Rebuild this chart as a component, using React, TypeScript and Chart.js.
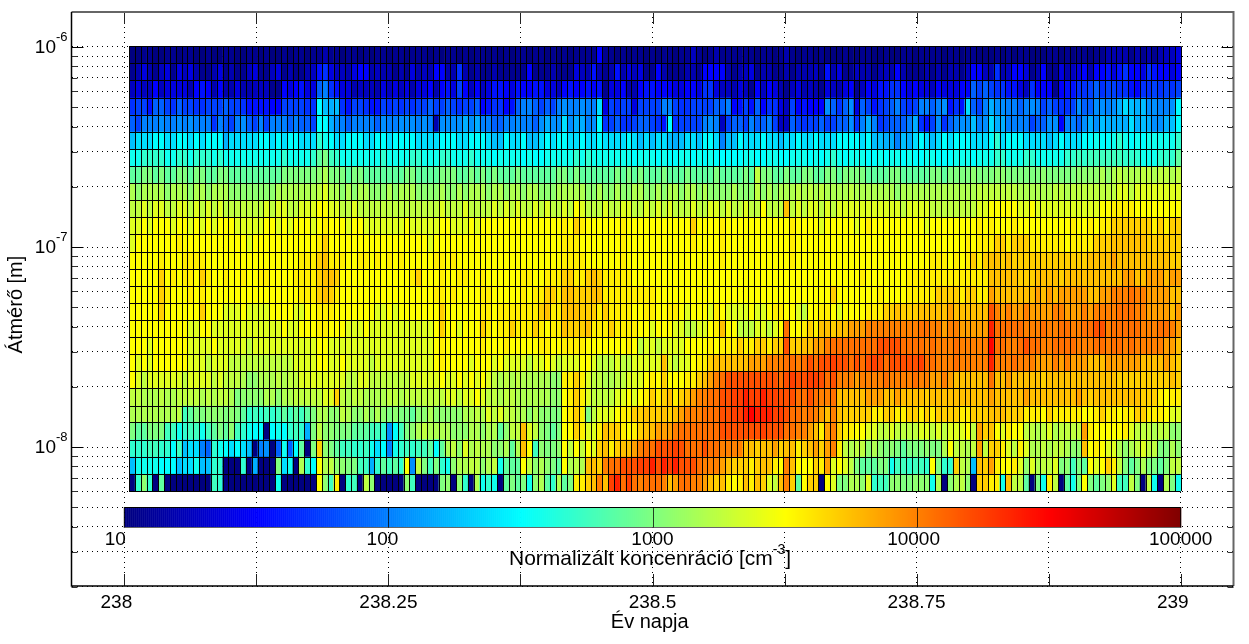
import React, { useEffect, useRef } from "react";
import { Chart, registerables } from "chart.js";

Chart.register(...registerables);

// Axis ticks
const xTickDays = [238, 238.125, 238.25, 238.375, 238.5, 238.625, 238.75, 238.875, 239];
const xTickLabels = ["238   ", "", "238.25", "", "238.5", "", "238.75", "", "239   "];
const yTicks = [
  2e-9, 3e-9, 4e-9, 5e-9, 6e-9, 7e-9, 8e-9, 9e-9,
  1e-8, 2e-8, 3e-8, 4e-8, 5e-8, 6e-8, 7e-8, 8e-8, 9e-8,
  1e-7, 2e-7, 3e-7, 4e-7, 5e-7, 6e-7, 7e-7, 8e-7, 9e-7, 1e-6,
];
const yMajorTicks = [1e-8, 1e-7, 1e-6];
const yMajorExponents = ["-8", "-7", "-6"];
const colorbarTicks = [10, 100, 1000, 10000, 100000];
const colorbarLabels = ["10", "100", "1000", "10000", "100000"];
const colorbarLabelShift = [-9, -6, 0, -3, 0];

// Bin edges of the diameter channels, top to bottom [m]
const diameterEdges = [
  1.008e-6, 8.28e-7, 6.8e-7, 5.58e-7, 4.59e-7, 3.77e-7, 3.09e-7, 2.54e-7, 2.09e-7,
  1.71e-7, 1.41e-7, 1.156e-7, 9.49e-8, 7.8e-8, 6.41e-8, 5.26e-8, 4.32e-8, 3.55e-8,
  2.91e-8, 2.39e-8, 1.97e-8, 1.61e-8, 1.33e-8, 1.09e-8, 8.94e-9, 7.34e-9, 6.03e-9,
];
const firstSampleDay = 238.00445;
const sampleStepDays = 0.005531;

// Normalised concentration per diameter channel, as 10*log10(cm^-3)
const row01 = [
  10,10,11,11,10,10,11,11,10,11, 11,10,10,11,10,10,11,11,10,10, 11,11,10,11,10,10,11,10,11,11, 10,11,11,12,11,11,10,11,11,10, 11,10,11,11,10,11,11,10,11,11, 11,10,11,10,11,11,10,11,10,11,
  11,10,11,10,11,10,11,11,10,11, 11,10,11,10,11,10,11,11,11,11, 15,11,11,10,11,10,11,11,10,11, 10,11,11,10,11,11,13,11,10,11, 12,11,11,11,11,11,11,10,11,11, 10,11,12,11,10,11,11,10,11,10,
  10,10,11,10,10,11,11,10,10,11, 10,10,11,11,10,11,11,11,11,10, 11,11,10,11,11,10,10,10,11,10, 11,10,11,11,10,10,10,11,11,10, 11,10,11,11,10,11,11,12,12,12, 12,11,12,11,12,11,12,13,13,14,
];
const row02 = [
  11,12,14,12,11,13,14,11,14,13, 14,12,11,11,12,14,11,12,11,11, 13,14,11,11,13,14,11,12,11,11, 12,13,16,17,14,13,13,12,14,15, 15,12,13,12,12,11,12,11,14,12, 13,12,15,15,12,12,17,12,11,12,
  11,11,12,11,11,11,11,11,15,11, 11,11,12,11,11,11,14,13,12,16, 12,11,12,16,12,14,13,14,11,11, 15,12,11,11,11,12,12,11,15,15, 15,15,12,11,12,13,14,11,12,12, 11,11,12,11,12,12,12,13,11,16,
  12,14,11,11,13,12,12,11,12,13, 12,15,12,11,11,11,12,11,12,11, 12,12,11,13,15,15,13,12,17,12, 13,15,15,14,11,12,15,11,11,14, 12,13,14,15,12,15,15,16,14,16, 17,15,15,14,17,16,15,15,14,15,
];
const row03 = [
  13,14,13,13,15,13,14,14,14,14, 12,15,16,15,12,15,12,12,14,12, 12,13,13,13,11,11,15,14,15,16, 14,14,19,20,17,16,14,14,12,13, 13,13,12,14,13,14,13,14,12,14, 14,15,12,15,16,14,18,15,13,15,
  13,14,16,16,15,14,16,15,15,16, 16,14,14,13,15,16,15,15,16,15, 16,11,14,14,15,12,12,15,16,16, 15,15,15,14,14,15,15,14,17,17, 14,13,13,12,14,13,11,15,13,15, 14,12,11,13,14,12,13,12,11,14,
  13,12,14,15,11,13,15,14,16,16, 17,17,15,14,15,14,14,13,15,14, 14,14,15,15,19,18,19,18,17,17, 16,16,14,13,17,15,15,15,11,15, 16,16,17,17,18,19,17,18,18,17, 17,16,15,17,17,18,17,18,17,18,
];
const row04 = [
  17,18,18,16,19,19,18,17,19,18, 18,17,17,18,18,18,19,18,18,17, 16,16,16,16,15,15,18,18,18,18, 17,17,25,23,22,23,17,16,18,18, 17,16,16,18,17,18,17,18,17,18, 18,19,18,18,19,18,17,18,18,19,
  15,16,17,17,15,16,19,20,20,19, 18,19,18,20,21,20,20,21,20,20, 24,14,18,17,18,18,14,18,18,18, 18,20,20,18,17,17,18,18,18,18, 19,19,20,15,16,18,16,19,15,17, 17,14,13,18,15,16,15,15,15,21,
  19,17,19,21,14,19,18,16,17,18, 19,20,18,17,18,20,20,19,20,21, 16,17,16,24,19,18,20,22,21,21, 20,20,19,20,21,20,18,19,18,17, 17,18,21,19,19,21,21,20,21,22, 24,23,22,23,21,21,20,20,21,25,
];
const row05 = [
  19,18,20,20,20,21,20,20,21,20, 21,20,20,20,17,20,19,18,20,21, 19,18,20,18,20,20,20,19,20,19, 19,18,25,25,22,21,20,19,20,20, 20,20,19,21,20,20,21,21,21,20, 21,20,12,21,21,21,21,22,21,22,
  20,20,19,19,20,20,21,20,20,19, 21,22,21,21,24,21,22,22,20,21, 25,17,18,19,17,17,18,19,19,18, 17,16,25,17,18,18,18,18,20,21, 20,13,18,19,19,18,20,19,19,20, 18,13,13,19,18,17,18,18,19,18,
  18,19,19,21,17,20,22,20,17,18, 19,19,19,20,22,17,16,18,21,17, 19,20,21,21,23,20,21,24,22,22, 20,20,20,20,18,19,19,21,21,15, 20,20,19,21,22,21,23,22,22,22, 22,24,22,23,22,21,21,22,23,25,
];
const row06 = [
  23,24,24,24,25,25,24,24,25,25, 24,25,24,25,25,25,22,24,24,24, 24,24,25,25,24,25,24,25,25,24, 24,24,27,26,25,24,24,25,25,25, 24,24,25,25,24,25,25,25,25,24, 24,24,24,25,25,25,24,24,25,25,
  25,24,23,23,25,24,24,25,23,23, 24,25,24,25,25,24,24,25,24,24, 25,24,24,24,24,25,24,23,24,23, 24,24,23,22,23,24,24,23,25,25, 24,20,23,23,25,24,24,24,25,24, 24,23,24,24,25,24,24,25,24,24,
  24,25,25,25,25,24,25,23,23,22, 22,20,23,22,24,25,24,23,24,25, 24,25,25,25,24,24,24,25,27,24, 25,25,25,24,24,24,24,23,24,25, 24,24,24,25,25,26,25,25,26,27, 26,25,26,25,26,26,26,26,26,27,
];
const row07 = [
  26,26,27,27,27,27,26,26,27,27, 26,27,27,27,26,27,26,26,26,26, 26,26,26,26,26,26,27,26,26,26, 26,27,29,30,28,27,26,26,26,26, 26,26,26,27,26,26,26,26,27,27, 26,26,26,27,27,26,26,26,27,26,
  26,26,25,26,26,26,26,25,26,25, 25,26,26,26,26,26,27,26,27,26, 26,26,26,26,26,26,25,26,26,26, 25,26,25,25,26,26,25,26,25,26, 25,25,25,25,25,26,26,25,25,26, 26,25,25,26,26,26,25,26,25,26,
  27,26,25,26,26,26,25,25,26,25, 26,26,25,26,25,25,26,26,25,25, 25,26,26,26,25,26,26,26,27,27, 26,26,26,27,27,26,26,26,26,26, 27,27,28,27,28,28,28,28,28,28, 27,27,27,26,26,26,27,27,27,29,
];
const row08 = [
  29,29,30,30,29,30,29,29,30,30, 29,30,30,29,29,30,30,29,29,29, 29,29,29,29,29,29,30,30,30,30, 30,30,31,32,30,30,30,29,30,30, 29,29,29,29,29,29,29,30,30,29, 29,29,29,30,30,30,29,29,30,29,
  30,29,30,29,29,29,30,29,29,29, 29,29,29,30,30,29,30,29,29,29, 29,29,29,30,29,30,29,30,29,29, 29,30,29,29,29,30,29,29,29,29, 30,29,29,29,29,30,29,33,30,30, 29,29,30,29,29,30,30,29,29,30,
  30,29,30,30,30,30,29,29,29,29, 30,30,29,29,29,29,29,30,30,29, 30,30,30,30,31,30,30,30,31,31, 30,30,30,30,30,30,31,30,30,30, 30,30,31,31,31,31,32,31,32,33, 32,32,32,33,33,32,33,33,32,33,
];
const row09 = [
  32,31,32,32,32,32,31,32,32,32, 31,32,32,31,32,32,32,31,31,31, 31,31,31,31,31,32,32,32,32,32, 32,32,33,34,32,32,31,32,31,32, 32,31,31,31,32,31,32,32,32,31, 31,31,31,32,31,31,32,31,32,32,
  32,31,32,32,31,32,32,31,32,32, 31,31,31,32,32,32,32,32,31,31, 32,31,31,32,31,31,32,32,31,31, 32,31,32,32,31,32,32,31,32,31, 31,31,31,32,31,31,31,33,31,32, 31,32,32,32,33,32,33,32,33,32,
  32,32,32,33,32,32,32,32,32,32, 32,31,32,32,32,32,32,32,32,32, 32,32,32,32,32,33,33,33,33,33, 33,33,32,32,32,32,32,32,33,33, 32,33,33,33,33,33,33,33,33,34, 34,33,34,34,34,34,34,34,34,34,
];
const row10 = [
  33,33,34,33,34,34,33,33,34,34, 33,34,33,34,33,34,33,33,33,33, 33,33,33,34,33,34,34,33,33,34, 34,34,35,35,34,34,33,33,34,33, 33,33,33,33,33,33,33,33,33,33, 33,33,33,34,33,33,33,34,33,33,
  33,33,34,33,34,33,34,33,33,34, 33,34,33,33,34,33,35,34,33,33, 33,34,33,33,34,34,33,33,34,33, 34,33,34,33,33,33,34,33,33,34, 34,33,34,33,33,34,33,33,35,33, 33,33,38,33,34,33,34,34,33,34,
  33,34,34,34,34,34,34,34,34,34, 34,34,33,34,34,34,34,33,33,33, 33,33,33,33,33,34,34,35,35,35, 35,35,34,34,35,34,34,34,34,34, 34,34,34,34,34,34,35,35,36,36, 36,36,35,35,35,35,35,35,35,35,
];
const row11 = [
  34,34,35,34,35,35,35,34,35,35, 34,35,34,35,34,35,35,35,34,34, 34,34,34,35,35,34,35,34,35,35, 35,34,35,36,35,35,35,34,35,35, 34,34,34,34,34,34,34,35,34,34, 34,34,34,35,35,34,34,34,35,34,
  35,35,35,35,35,35,35,35,35,35, 35,35,35,35,36,35,37,36,35,35, 35,35,35,35,36,35,35,35,35,35, 35,35,35,35,35,35,37,35,35,35, 35,36,35,35,35,35,35,35,35,35, 35,35,35,36,35,35,35,35,34,35,
  35,35,35,35,34,35,36,35,35,35, 35,35,35,35,35,35,34,35,35,35, 35,35,35,35,35,36,35,36,35,35, 35,36,35,35,35,35,35,35,35,35, 35,36,35,35,36,35,36,36,37,37, 37,37,37,37,37,36,37,36,37,37,
];
const row12 = [
  34,35,35,35,35,35,35,35,36,35, 35,35,35,35,35,35,35,35,35,35, 34,35,35,35,35,35,35,35,35,35, 35,35,36,37,35,35,35,35,35,35, 35,35,35,35,35,35,35,35,35,35, 35,34,35,35,35,35,35,35,35,35,
  35,35,35,35,35,35,35,35,35,35, 35,35,35,35,36,36,36,35,35,35, 35,35,35,35,36,35,35,35,35,35, 35,35,35,35,35,35,36,35,35,35, 35,36,35,35,35,35,35,35,35,35, 35,35,35,36,35,35,35,35,35,35,
  35,35,35,35,35,35,35,35,35,35, 35,35,35,35,35,35,35,35,35,35, 35,35,35,36,35,36,36,36,37,37, 36,37,37,37,36,36,36,36,36,36, 35,36,36,36,36,37,37,37,38,38, 38,38,38,38,37,37,37,37,37,37,
];
const row13 = [
  35,35,35,35,35,36,35,35,35,36, 36,36,36,35,35,35,35,35,35,35, 35,35,35,35,35,35,35,35,35,36, 36,36,37,38,36,36,36,35,35,36, 36,35,36,35,36,35,36,35,35,35, 35,35,36,36,35,36,35,35,35,35,
  35,35,35,35,35,35,35,35,35,35, 35,35,35,35,36,36,36,36,35,35, 35,35,35,35,36,35,35,35,35,35, 35,35,35,35,35,35,35,35,35,35, 35,36,35,35,35,35,35,35,35,35, 35,35,35,36,35,35,35,35,35,35,
  35,35,35,35,35,35,35,35,35,35, 35,35,35,35,35,35,35,36,36,36, 35,36,35,36,37,36,37,38,38,37, 38,37,37,37,37,37,37,37,37,37, 37,37,37,37,38,38,38,38,39,38, 38,38,38,38,38,38,38,38,37,37,
];
const row14 = [
  35,35,35,35,35,37,35,36,35,36, 36,35,37,36,35,35,36,35,35,36, 35,35,36,36,35,35,35,35,36,36, 36,36,37,38,38,37,35,35,35,35, 35,35,35,35,35,35,35,35,36,37, 35,35,35,36,35,35,36,36,35,35,
  36,35,35,35,35,35,35,36,36,35, 35,36,36,36,37,37,36,36,37,38, 37,36,36,36,36,36,35,35,35,35, 35,35,35,35,35,35,35,35,35,35, 35,35,35,35,35,35,35,35,35,35, 35,35,35,35,35,35,35,35,35,35,
  35,35,35,35,35,36,35,35,35,35, 35,35,35,36,36,36,36,36,36,36, 36,36,36,36,36,36,36,38,38,38, 38,38,37,37,37,38,38,38,38,37, 38,38,38,38,38,38,38,38,38,38, 39,39,38,38,39,39,39,38,39,39,
];
const row15 = [
  35,35,35,35,35,37,36,35,35,35, 36,35,36,35,35,35,35,35,35,35, 35,35,35,35,35,35,35,35,35,36, 36,36,37,38,37,36,35,35,35,35, 35,35,35,35,35,35,35,35,35,35, 35,35,36,36,35,36,35,35,35,35,
  36,36,35,35,35,35,35,36,35,36, 36,37,37,36,38,38,37,37,37,38, 38,36,36,36,36,36,36,36,36,36, 35,35,35,35,35,35,35,35,35,35, 35,35,35,35,35,35,35,35,35,35, 35,35,35,35,35,35,35,35,35,35,
  37,35,35,35,35,35,35,35,36,35, 35,35,35,36,36,36,36,36,37,37, 37,37,36,37,37,36,36,39,38,38, 38,38,38,38,38,39,38,39,38,39, 39,39,39,39,38,38,39,39,40,40, 40,41,40,40,39,39,39,39,38,38,
];
const row16 = [
  35,35,35,35,35,37,35,35,35,35, 35,35,37,35,35,35,34,34,34,35, 34,34,34,34,35,35,35,35,34,34, 35,35,36,36,36,35,35,35,35,35, 35,35,34,34,35,34,35,35,35,35, 35,35,35,37,35,35,35,35,35,35,
  36,36,35,36,36,36,36,36,36,36, 37,38,36,36,38,38,38,37,37,37, 36,37,36,36,36,36,35,35,36,36, 35,35,36,36,35,34,35,35,35,34, 36,35,34,34,34,34,35,34,34,35, 36,36,35,35,34,33,35,35,36,36,
  35,34,35,35,35,35,36,36,36,37, 37,38,37,37,37,38,38,38,38,38, 39,38,38,38,38,38,38,42,40,39, 40,39,39,40,39,39,39,39,40,40, 39,39,39,40,39,40,40,40,40,41, 41,41,40,40,39,39,39,39,38,39,
];
const row17 = [
  35,35,35,35,35,35,35,35,35,35, 34,34,35,35,34,34,34,34,34,34, 34,34,34,34,34,34,35,34,34,35, 35,35,36,36,35,35,35,34,34,34, 35,34,34,34,34,34,34,34,34,34, 34,34,35,37,35,35,34,35,35,35,
  37,36,35,36,36,37,36,36,36,37, 36,35,36,36,38,37,37,37,38,36, 36,36,37,36,36,36,36,35,35,34, 35,35,35,34,34,33,33,34,34,35, 36,38,35,35,33,33,33,34,34,33, 34,35,41,35,35,36,37,36,38,38,
  37,38,38,39,39,39,40,40,40,40, 40,40,40,40,40,41,41,40,40,39, 40,40,39,39,39,39,39,44,41,41, 41,41,41,40,40,40,41,40,40,41, 41,40,40,41,41,42,42,40,41,41, 41,41,41,40,40,40,41,41,40,39,
];
const row18 = [
  35,35,35,34,35,35,35,35,35,35, 34,34,34,34,35,34,34,34,34,34, 33,34,34,34,34,34,34,34,34,34, 34,34,35,35,34,34,34,34,34,34, 34,34,34,34,34,34,34,34,34,34, 34,34,35,36,35,35,35,35,35,35,
  36,35,35,35,36,35,35,35,35,35, 36,36,35,35,36,36,36,36,35,35, 35,35,35,35,35,36,35,33,34,34, 33,34,34,34,34,35,35,35,35,36, 35,36,36,36,37,36,36,37,37,36, 37,37,42,37,37,38,38,39,39,40,
  41,41,41,41,41,41,41,41,42,42, 42,42,41,41,41,41,40,41,40,40, 40,41,40,40,40,40,40,45,41,41, 40,40,41,42,41,41,40,40,41,41, 41,41,40,40,40,41,41,40,41,41, 40,41,40,40,40,40,40,39,39,38,
];
const row19 = [
  35,34,35,34,35,35,35,35,35,35, 34,34,34,33,34,34,34,33,33,33, 33,33,33,33,33,33,33,33,34,34, 34,34,35,35,34,34,35,34,34,34, 34,33,34,34,34,34,34,34,34,34, 34,34,35,36,35,35,35,35,34,35,
  35,35,34,35,34,34,34,34,33,34, 34,35,34,33,34,34,34,35,35,34, 33,33,33,34,33,33,34,34,34,34, 34,38,34,33,34,34,35,36,36,37, 38,38,38,38,38,38,39,39,39,40, 40,40,41,41,40,41,42,41,42,42,
  43,42,42,41,42,41,42,43,42,41, 42,42,42,42,42,43,41,41,40,40, 40,41,40,40,40,40,40,44,40,40, 40,41,40,40,40,39,39,39,40,39, 40,39,39,39,38,38,38,39,39,39, 39,39,39,38,38,38,38,39,38,37,
];
const row20 = [
  35,34,33,34,34,34,34,34,34,33, 34,34,34,34,33,34,33,33,33,32, 31,31,32,32,32,33,32,33,33,34, 34,34,34,34,34,34,34,33,33,34, 34,33,33,33,33,33,33,33,34,34, 34,34,34,35,34,34,35,34,35,34,
  35,34,33,32,33,32,33,32,32,32, 32,32,31,31,36,36,37,36,34,33, 33,32,32,33,33,34,34,34,35,36, 35,37,35,35,35,36,36,37,38,39, 40,41,42,42,42,42,42,42,42,42, 42,41,42,43,42,42,43,43,42,41,
  42,40,40,40,39,40,40,40,40,41, 40,40,40,40,41,40,40,39,39,40, 39,38,38,38,38,38,38,41,38,38, 39,38,38,38,38,38,37,38,38,38, 38,38,38,38,38,38,38,38,38,37, 37,37,37,37,37,37,37,37,38,37,
];
const row21 = [
  33,33,32,32,32,33,32,32,33,33, 33,33,32,33,32,33,33,32,30,31, 31,31,31,32,32,31,32,32,33,33, 33,33,33,34,34,37,33,32,33,33, 32,32,32,32,33,33,32,33,33,33, 33,33,33,33,34,34,33,34,34,35,
  34,33,33,32,33,33,32,32,32,32, 32,32,31,31,35,36,37,36,34,33, 33,33,33,34,34,35,34,35,36,37, 36,37,38,36,37,38,39,40,40,41, 41,42,42,43,43,44,43,43,44,43, 43,42,42,42,41,41,42,41,40,40,
  41,38,38,38,38,38,39,39,39,38, 38,39,38,38,38,38,37,38,38,38, 38,38,38,38,38,38,38,39,38,38, 38,38,38,39,38,38,38,38,38,38, 38,38,39,38,37,38,38,38,38,38, 38,38,38,37,37,37,36,35,36,36,
];
const row22 = [
  32,32,32,32,32,32,32,32,33,28, 29,30,30,31,31,31,30,31,30,29, 27,28,27,28,27,28,29,28,29,28, 29,30,32,32,31,31,33,32,31,31, 32,31,32,31,30,31,30,30,29,31, 31,32,31,31,31,31,31,32,32,33,
  32,34,33,34,33,33,32,32,31,32, 31,31,30,30,35,36,37,36,30,33, 34,34,34,35,36,36,37,37,38,37, 37,38,37,38,39,40,40,40,41,41, 41,42,42,43,43,44,45,44,44,44, 43,43,42,41,41,40,41,40,39,38,
  40,38,37,37,37,37,37,36,36,37, 37,36,36,37,37,36,37,36,37,37, 37,37,36,36,37,37,37,38,38,38, 37,37,37,36,36,36,35,37,36,36, 36,36,36,35,35,36,37,36,36,35, 36,36,37,37,36,36,36,35,34,34,
];
const row23 = [
  30,29,29,30,30,30,28,28,26,27, 28,28,26,28,29,30,29,31,28,27, 26,25,25,10,25,26,25,27,28,27, 22,30,33,31,31,30,30,30,29,29, 29,28,28,27,21,25,28,30,31,32, 33,32,32,32,32,31,31,31,32,32,
  31,32,32,29,31,33,33,38,34,33, 31,30,29,30,35,35,37,36,34,34, 36,38,37,37,36,35,36,37,38,38, 39,39,39,40,41,41,41,41,41,41, 41,42,42,42,42,42,42,42,43,42, 42,42,41,41,40,40,39,38,36,39,
  40,37,36,36,35,35,34,34,33,33, 34,33,33,33,33,34,34,33,34,33, 34,34,34,35,33,39,37,38,35,34, 36,35,35,33,33,32,33,34,32,33, 33,33,33,39,36,35,35,35,35,35, 36,34,33,33,33,32,33,33,31,31,
];
const row24 = [
  27,27,27,28,28,27,27,25,28,23, 24,24,20,19,27,26,25,24,25,24, 23,10,20,21,10,19,26,19,25,29, 10,30,37,31,30,29,28,28,27,27, 28,26,24,25,20,26,27,28,27,28, 28,29,25,29,32,33,31,34,32,33,
  32,32,31,31,32,29,32,38,35,28, 31,30,30,31,35,33,35,33,35,34, 37,38,36,37,38,38,39,40,41,41, 42,42,42,43,42,41,41,41,42,41, 41,40,40,40,40,38,38,37,38,38, 39,37,38,38,36,37,38,39,37,39,
  40,36,33,32,33,33,31,32,31,30, 31,30,29,30,30,30,31,30,30,32, 35,33,33,32,33,39,33,37,37,36, 34,33,36,34,32,32,33,32,33,33, 32,31,31,38,35,36,35,34,34,32, 31,32,33,34,33,33,30,30,32,31,
];
const row25 = [
  23,26,26,26,26,25,25,25,23,24, 24,26,23,23,27,27,10,10,10,27, 10,22,10,10,10,30,24,26,10,32, 27,25,35,32,33,31,31,30,30,28, 28,22,27,29,28,29,27,35,21,33, 30,28,30,27,26,31,32,32,33,33,
  31,32,33,26,29,29,29,35,33,31, 32,31,30,29,35,32,33,32,38,38, 37,40,41,41,42,42,42,43,43,44, 42,44,43,44,42,42,42,41,40,40, 40,39,38,37,37,37,36,37,38,38, 36,35,40,38,35,35,35,37,36,39,
  34,35,34,33,30,29,29,29,30,30, 26,28,28,27,28,28,27,35,30,27, 27,37,33,32,23,38,37,39,36,35, 35,36,34,31,34,32,33,33,34,30, 31,28,30,29,35,34,35,37,36,33, 30,29,30,32,30,30,29,30,33,33,
];
const row26 = [
  10,27,31,27,10,29,10,10,10,10, 10,10,10,10,28,27,10,10,10,10, 10,10,10,10,10,26,10,10,10,10, 10,10,35,31,28,36,10,27,28,10, 33,31,10,10,10,10,10,31,28,10, 10,10,10,30,31,10,31,27,10,32,
  26,27,26,10,29,30,29,30,26,31, 32,29,27,32,29,30,36,36,37,38, 40,38,43,44,41,43,41,40,41,41, 41,40,38,39,41,41,40,40,39,38, 37,38,36,35,36,38,36,38,37,34, 33,38,40,37,29,35,37,37,10,35,
  34,30,30,32,32,31,34,27,28,28, 31,31,30,30,31,31,31,26,32,10, 31,32,33,31,10,37,37,36,36,26, 38,33,33,29,10,30,26,36,33,10, 29,26,30,35,30,29,30,31,34,28, 28,33,30,10,33,26,10,32,30,26,
];
const channels = [
  row01, row02, row03, row04, row05, row06, row07, row08, row09, row10, row11, row12, row13,
  row14, row15, row16, row17, row18, row19, row20, row21, row22, row23, row24, row25, row26,
];

const FONT = '"Liberation Sans", Arial, sans-serif';

function jetAt(q: number): string {
  const c = (v: number) => Math.round(255 * Math.max(0, Math.min(1, v)));
  const r = c(Math.min(4 * q - 1.5, -4 * q + 4.5));
  const g = c(Math.min(4 * q - 0.5, -4 * q + 3.5));
  const b = c(Math.min(4 * q + 0.5, -4 * q + 2.5));
  return `rgb(${r},${g},${b})`;
}
// Cells use the 64-step colour map; the colour bar is drawn smooth.
const jet64 = (t: number) => jetAt(Math.min(63, Math.max(0, Math.floor(t * 64))) / 64);

const cells = channels.flatMap((row, r) =>
  row.map((v, c) => ({
    x: firstSampleDay + (c + 0.5) * sampleStepDays,
    y: Math.sqrt(diameterEdges[r] * diameterEdges[r + 1]),
    x0: firstSampleDay + c * sampleStepDays,
    x1: firstSampleDay + (c + 1) * sampleStepDays,
    y0: diameterEdges[r],
    y1: diameterEdges[r + 1],
    v,
  }))
);

const heatmapPlugin = {
  id: "heatmap",
  beforeDatasetsDraw(chart: any) {
    const { ctx, scales } = chart;
    const x = scales.x;
    const y = scales.y;
    ctx.save();
    // colour bar
    const cbTop = Math.round(y.getPixelForValue(5e-9)) + 0.5;
    const cbBot = Math.round(y.getPixelForValue(3.97e-9)) + 0.5;
    const cbX = (c: number) => x.getPixelForValue(238 + (Math.log10(c) - 1) / 4);
    const steps = 528;
    for (let i = 0; i < steps; i++) {
      const t0 = i / steps;
      const a = x.getPixelForValue(238 + t0);
      const b = x.getPixelForValue(238 + (i + 1) / steps);
      ctx.fillStyle = jetAt(t0);
      ctx.fillRect(a, cbTop, b - a + 0.5, cbBot - cbTop);
    }
    ctx.strokeStyle = "#000";
    ctx.lineWidth = 1;
    ctx.strokeRect(cbX(10), cbTop, cbX(100000) - cbX(10), cbBot - cbTop);
    ctx.strokeStyle = "#666";
    ctx.beginPath();
    ctx.moveTo(cbX(10), cbBot);
    ctx.lineTo(cbX(100000), cbBot);
    ctx.stroke();
    ctx.strokeStyle = "rgba(0,0,0,0.75)";
    colorbarTicks.slice(1, -1).forEach((c) => {
      const p = Math.round(cbX(c)) + 0.5;
      ctx.beginPath();
      ctx.moveTo(p, cbTop);
      ctx.lineTo(p, cbBot);
      ctx.stroke();
    });
    // cells
    const data = chart.data.datasets[0].data;
    for (const d of data) {
      const a = x.getPixelForValue(d.x0);
      const b = x.getPixelForValue(d.x1);
      const t = y.getPixelForValue(d.y0);
      const u = y.getPixelForValue(d.y1);
      ctx.fillStyle = jet64((d.v - 10) / 40);
      ctx.fillRect(a, t, b - a + 0.4, u - t + 0.4);
    }
    // crisp cell outlines
    ctx.strokeStyle = "#000";
    ctx.lineWidth = 1;
    ctx.beginPath();
    const leftPx = x.getPixelForValue(firstSampleDay);
    const rightPx = x.getPixelForValue(firstSampleDay + 180 * sampleStepDays);
    const topPx = y.getPixelForValue(diameterEdges[0]);
    const botPx = y.getPixelForValue(diameterEdges[diameterEdges.length - 1]);
    diameterEdges.forEach((e) => {
      const p = Math.round(y.getPixelForValue(e)) + 0.5;
      ctx.moveTo(leftPx, p);
      ctx.lineTo(rightPx, p);
    });
    for (let c = 0; c <= 180; c++) {
      const p = Math.round(x.getPixelForValue(firstSampleDay + c * sampleStepDays)) + 0.5;
      ctx.moveTo(p, topPx);
      ctx.lineTo(p, botPx);
    }
    ctx.stroke();
    ctx.restore();
  },
  afterDraw(chart: any) {
    const { ctx, scales, chartArea } = chart;
    const { left, right, top, bottom } = chartArea;
    const x = scales.x;
    const y = scales.y;
    ctx.save();
    // inner tick marks
    ctx.lineWidth = 1;
    xTickDays.forEach((d) => {
      const p = Math.round(x.getPixelForValue(d)) + 0.5;
      ctx.strokeStyle = "#222";
      ctx.beginPath();
      ctx.moveTo(p, bottom);
      ctx.lineTo(p, bottom - 12);
      ctx.moveTo(p, top);
      ctx.lineTo(p, top + 12);
      ctx.stroke();
    });
    yTicks.forEach((v) => {
      const major = yMajorTicks.includes(v);
      const len = major ? 12 : 6;
      const p = Math.round(y.getPixelForValue(v)) + 0.5;
      ctx.strokeStyle = major ? "#000" : "#333";
      ctx.beginPath();
      ctx.moveTo(left, p);
      ctx.lineTo(left + len, p);
      ctx.moveTo(right, p);
      ctx.lineTo(right - len, p);
      ctx.stroke();
    });
    // axes box
    ctx.strokeStyle = "#666";
    ctx.lineWidth = 2;
    ctx.beginPath();
    ctx.moveTo(left, top);
    ctx.lineTo(right, top);
    ctx.lineTo(right, bottom);
    ctx.stroke();
    ctx.strokeStyle = "#000";
    ctx.lineWidth = 1.5;
    ctx.beginPath();
    ctx.moveTo(left, top);
    ctx.lineTo(left, bottom);
    ctx.lineTo(right, bottom);
    ctx.stroke();
    // y tick labels with superscript exponents
    ctx.fillStyle = "#000";
    ctx.textBaseline = "middle";
    yMajorTicks.forEach((v, i) => {
      const p = y.getPixelForValue(v);
      ctx.textAlign = "right";
      ctx.font = `19px ${FONT}`;
      ctx.fillText("10", 56, p + 0.5);
      ctx.textAlign = "left";
      ctx.font = `13px ${FONT}`;
      ctx.fillText(yMajorExponents[i], 56, p - 10);
    });
    // colour bar labels
    ctx.font = `19px ${FONT}`;
    ctx.textAlign = "center";
    colorbarTicks.forEach((c, i) => {
      const p = x.getPixelForValue(238 + (Math.log10(c) - 1) / 4);
      ctx.fillText(colorbarLabels[i], p + colorbarLabelShift[i], 540);
    });
    // colour bar title with superscript
    const t1 = "Normalizált koncenráció [cm";
    const sup = "-3";
    const t2 = "]";
    ctx.textAlign = "left";
    ctx.font = `21px ${FONT}`;
    const w1 = ctx.measureText(t1).width;
    const w3 = ctx.measureText(t2).width;
    ctx.font = `14px ${FONT}`;
    const w2 = ctx.measureText(sup).width;
    let tx = 650 - (w1 + w2 + w3) / 2;
    ctx.font = `21px ${FONT}`;
    ctx.fillText(t1, tx, 559);
    tx += w1;
    ctx.font = `14px ${FONT}`;
    ctx.fillText(sup, tx, 550);
    tx += w2;
    ctx.font = `21px ${FONT}`;
    ctx.fillText(t2, tx, 559);
    ctx.restore();
  },
};

export default function App() {
  const ref = useRef<HTMLCanvasElement>(null);
  useEffect(() => {
    document.body.style.margin = "0";
    const chart = new Chart(ref.current as HTMLCanvasElement, {
      type: "scatter",
      data: { datasets: [{ label: "Normalizált koncentráció", data: cells as any, pointRadius: 0, showLine: false }] },
      plugins: [heatmapPlugin as any],
      options: {
        animation: false,
        responsive: false,
        devicePixelRatio: 1,
        layout: { padding: { top: 12, right: 15.5, left: 0, bottom: 0 } },
        plugins: { legend: { display: false }, tooltip: { enabled: false } },
        events: [],
        scales: {
          x: {
            type: "linear",
            min: 237.95,
            max: 239.05,
            afterFit: (s: any) => { s.height = 58; },
            afterBuildTicks: (s: any) => { s.ticks = xTickDays.map((value) => ({ value })); },
            ticks: {
              autoSkip: false,
              maxRotation: 0,
              padding: 5,
              color: "#000",
              font: { family: FONT, size: 19 },
              callback: (v: any) => xTickLabels[xTickDays.indexOf(Number(v))] ?? "",
            },
            grid: { color: "#000", lineWidth: 1, drawTicks: false },
            border: { display: false, dash: [1, 4] },
            title: {
              display: true,
              text: "Év napja ",
              color: "#000",
              font: { family: FONT, size: 20 },
              padding: { top: 0, bottom: 10 },
            },
          },
          y: {
            type: "logarithmic",
            min: 2.02e-9,
            max: 1.496e-6,
            afterFit: (s: any) => { s.width = 71.5; },
            afterBuildTicks: (s: any) => { s.ticks = yTicks.map((value) => ({ value })); },
            ticks: { display: false, autoSkip: false },
            grid: { color: "#000", lineWidth: 1, drawTicks: false },
            border: { display: false, dash: [1, 4] },
            title: {
              display: true,
              text: "Átmérő [m]  ",
              color: "#000",
              font: { family: FONT, size: 20 },
              padding: { top: 4, bottom: 0 },
            },
          },
        },
      } as any,
    });
    return () => chart.destroy();
  }, []);
  return <canvas ref={ref} width={1249} height={644} style={{ display: "block" }} />;
}
